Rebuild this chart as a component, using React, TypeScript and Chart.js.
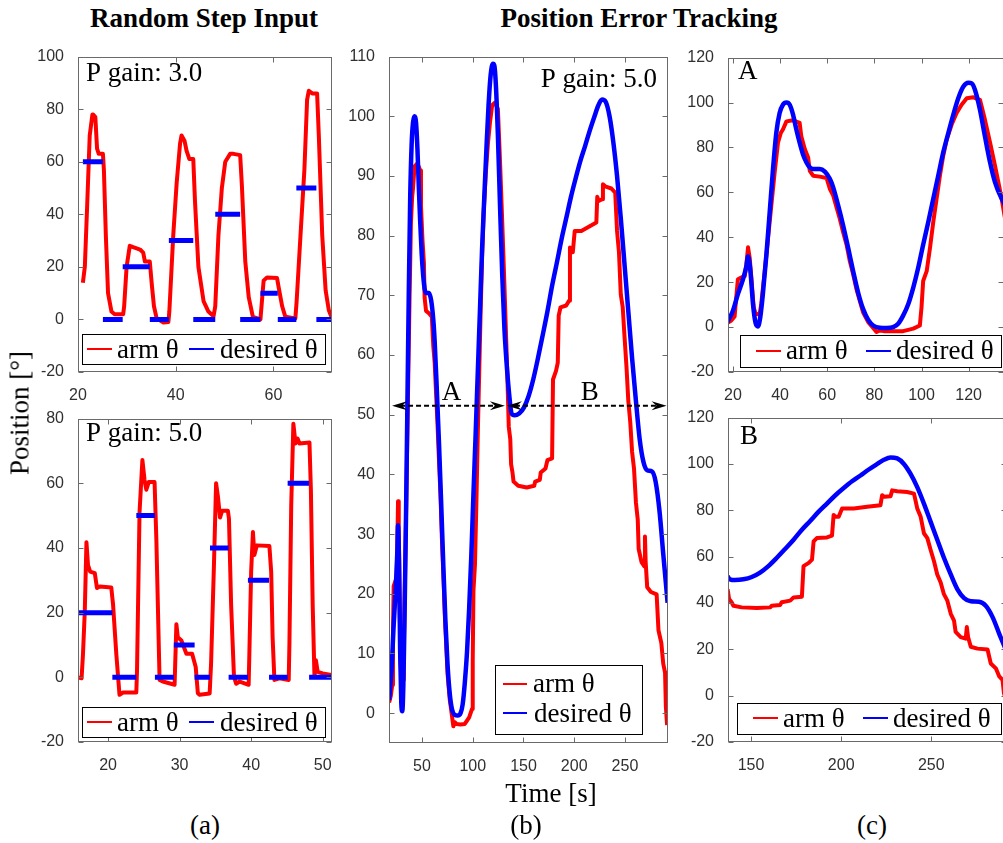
import React, { useEffect, useRef } from 'react';
import { Chart, registerables } from 'chart.js';

Chart.register(...registerables);

type Pt = [number, number];

const RED = '#ff0000';
const BLUE = '#0000ff';
const SERIF = '"Liberation Serif", "Times New Roman", Times, serif';
const SANS = '"Liberation Sans", Arial, Helvetica, sans-serif';

// ---------------- (a) top: P gain 3.0 ----------------
const a1Arm: Pt[] = [
  [21.0, 14], [21.4, 20], [21.85, 42], [22.4, 70], [22.95, 78], [23.1, 78], [23.55, 77], [23.9, 65],
  [24.25, 63], [25.1, 63], [25.3, 57], [25.7, 32], [26.15, 10], [26.85, 3], [27.5, 2], [29.25, 2],
  [29.45, 5], [29.95, 20], [30.6, 28], [31.3, 27.5], [32.7, 26.6], [33.35, 25.4], [33.7, 22], [34.7, 22],
  [35.1, 13.5], [35.55, 5], [36.1, 0.4], [37.5, -1.2], [38.5, -1], [38.7, 3], [39.5, 32], [40.2, 52],
  [40.9, 67], [41.2, 70], [41.8, 68], [42.25, 64], [42.8, 61], [43.6, 61], [43.95, 45], [44.65, 20],
  [45.7, 7], [46.7, 3], [47.75, 1.2], [48.1, 5], [48.75, 32], [49.45, 50], [50.15, 60], [51.15, 63],
  [51.85, 63], [53.2, 62.5], [53.55, 51], [54.25, 22], [54.95, 8.5], [55.8, 1], [57.35, 0], [58.0, 14.75],
  [58.7, 16], [60.75, 15.75], [61.1, 12], [61.8, 5], [62.45, 1], [64.5, 0.4], [64.75, 6.6], [65.55, 32],
  [66.35, 57], [66.9, 83.5], [67.25, 87], [67.95, 86], [68.95, 86], [69.3, 70], [70.0, 32], [70.7, 11],
  [71.35, 3.5], [72.0, 0.4],
];
const a1StepStart = [21, 25.1, 29.15, 34.7, 38.6, 43.6, 48.1, 53.2, 57.35, 60.9, 64.7, 68.8];
const a1StepEnd = [25.1, 29.15, 34.7, 38.6, 43.6, 48.1, 53.2, 57.35, 60.9, 64.7, 68.8, 72];
const a1StepValue = [60, 0, 20, 0, 30, 0, 40, 0, 10, 0, 50, 0];
const a1XTicks = [20, 40, 60];
const a1YTicks = [-20, 0, 20, 40, 60, 80, 100];

// ---------------- (a) bottom: P gain 5.0 ----------------
const a2Arm: Pt[] = [
  [15.7, 0], [16.3, -0.3], [16.5, 7.3], [16.75, 20.5], [16.98, 41.8], [17.2, 34.7], [17.5, 32.7], [18.15, 32.2],
  [18.45, 27.6], [18.85, 28.1], [20.45, 27.8], [20.7, 22.5], [21.15, 7.3], [21.6, -5.4], [22.1, -4.7], [23.95, -4.7],
  [24.05, 2.2], [24.4, 51], [24.8, 67.2], [25.1, 61], [25.35, 58], [25.7, 60.4], [26.5, 60.4], [26.75, 42.8],
  [27.2, -0.8], [27.65, -1.3], [29.3, -2.3], [29.55, 16.4], [29.75, 12.4], [30.25, 11.4], [30.95, 7.3], [31.75, 7.3],
  [32.25, 3.2], [32.55, -4.9], [32.8, -5.4], [34.2, -5], [34.4, 4.3], [34.8, 34.7], [35.1, 60], [35.35, 56],
  [35.65, 49.4], [35.95, 51.5], [36.75, 51.5], [36.9, 49], [37.2, 22.5], [37.6, 0.2], [37.9, -2], [38.4, -1.3],
  [39.65, -2.3], [39.75, 7.3], [40.0, 32.7], [40.25, 44.9], [40.45, 37.8], [40.8, 40.8], [42.55, 40.6], [42.8, 32.7],
  [43.0, 12.4], [43.25, -0.8], [43.95, -0.3], [45.25, -0.8], [45.35, 10.4], [45.6, 53], [45.9, 78.4], [46.2, 72.3],
  [46.5, 73.8], [46.75, 72.3], [48.15, 72.6], [48.35, 58], [48.6, 22.5], [48.85, 0.2], [49.05, 5.3], [49.3, 1.7],
  [50.0, 1.2], [51.2, 0.7],
];
const a2StepStart = [15.8, 20.6, 23.95, 26.55, 29.2, 32.1, 34.25, 36.85, 39.55, 42.5, 45.1, 48.1];
const a2StepEnd = [20.6, 23.95, 26.55, 29.2, 32.1, 34.25, 36.85, 39.55, 42.5, 45.1, 48.1, 51.3];
const a2StepValue = [20, 0, 50, 0, 10, 0, 40, 0, 30, 0, 60, 0];
const a2XTicks = [20, 30, 40, 50];
const a2YTicks = [-20, 0, 20, 40, 60, 80];

// ---------------- (b)/(c) tracking ----------------
const trackDesired: Pt[] = [
  [17.6, 2.2], [20, 7.3], [22.1, 14.7], [24.25, 21.3], [25.7, 27.1], [26.4, 31.5], [27.4, 25], [28.5, 10.3],
  [29.6, 1.8], [30.6, 0.3], [31.6, 4.4], [32.7, 14.7], [34.2, 32.3], [35.6, 51.3], [37, 70.4], [38.4, 86.5],
  [39.8, 95.3], [41.2, 99], [42.7, 100], [44.1, 99], [45.5, 94.6], [46.9, 88], [48.3, 82.1], [49.7, 77],
  [51.2, 73.3], [52.6, 71.1], [54, 70.4], [56.8, 70.4], [59, 69.2], [61.1, 66], [62.5, 62.3], [64.6, 54.3],
  [66.7, 45.5], [68.9, 35.2], [71, 24.9], [73.1, 15.4], [75.2, 8.1], [77.4, 3.2], [79.5, 0.7], [82.3, -0.3],
  [85.2, -0.4], [88, 0], [90.1, 1.5], [92.2, 5.1], [94.4, 10.3], [96.5, 17.6], [98.6, 26.4], [100.7, 36.7],
  [102.9, 46.9], [105, 57.2], [107.1, 67.4], [109.2, 77.7], [111.4, 86.5], [113.5, 94.6], [115.6, 101.9], [117.7, 107],
  [119.9, 108.8], [121.3, 108.5], [122.7, 105.6], [124.8, 96.8], [126.9, 85], [129.1, 73.3], [131.2, 64.5], [134, 57.2],
  [137, 51.6], [138.3, 50.2], [141.1, 49.9], [145.7, 50.2], [150.4, 51.2], [155, 53.1], [159.6, 55.9], [164.3, 59.5],
  [168.9, 63.3], [173.6, 67.3], [178.2, 71.6], [182.8, 75.4], [187.5, 79.4], [192.1, 82.9], [196.8, 86.5], [201.4, 89.6],
  [206, 92.5], [210.7, 95], [215.3, 97.6], [220, 100], [223.7, 101.8], [227.4, 102.8], [231.1, 102.4], [234.8, 100],
  [238.5, 95.7], [242.2, 90], [245.9, 82.9], [249.6, 75.1], [253.3, 67.3], [257, 59.5], [260.8, 52.3], [264.5, 45.9],
  [268.2, 42.1], [271.9, 40.7], [276.5, 40.5], [280.2, 38.8], [284, 33.9], [287.7, 26.7], [290.3, 21.8], [292, 18.5],
];
const trackArm: Pt[] = [
  [17.6, 1.8], [19.3, 2.9], [20.7, 4.7], [21.4, 13.2], [22.1, 21.3], [23.5, 22], [25, 22.7], [25.7, 27.9],
  [26.4, 35.5], [27.1, 30.8], [27.8, 22], [28.8, 8.8], [29.6, 5.9], [31.3, 5.6], [32, 10.3], [33.5, 24.9],
  [34.9, 39.6], [36.3, 54.3], [37.7, 68.9], [39.1, 82.1], [40.3, 86.5], [41.2, 88], [42.7, 91.6], [45.5, 92.1],
  [48.3, 90.9], [49, 85], [50.5, 79.2], [51.9, 75.5], [52.6, 69.6], [54, 67.4], [56.8, 67], [59.7, 66.4],
  [61.1, 61.6], [62.5, 58.7], [63.9, 53.5], [65.3, 48.4], [66.7, 42.5], [68.2, 36.7], [69.6, 29.3], [71, 23.5],
  [72.4, 16.9], [73.8, 11.7], [75.2, 6.6], [77.4, 2.2], [79.5, -0.4], [80.9, -2.2], [82.3, -1.5], [84, -1.8],
  [88, -1.9], [92.2, -1.8], [96.5, -0.7], [99.3, 0.7], [100, 8.8], [100.7, 20.5], [102.2, 24.9], [103.6, 35.2],
  [105, 46.9], [106.4, 57.2], [107.8, 67.4], [109.2, 76.2], [110.7, 83.6], [112.8, 90.2], [114.9, 95.3], [117, 99],
  [119.2, 101.9], [122, 102.3], [124.8, 101.2], [126.9, 92.4], [129.1, 82.1], [131.2, 71.8], [132.6, 64.5], [134, 57.2],
  [135.5, 48], [137, 45.9], [137.8, 41.7], [139.2, 40.3], [140.2, 38.8], [144.8, 38.1], [153.2, 37.8], [160.6, 38.1],
  [161.5, 38.8], [166.1, 39.1], [167, 40.3], [171.7, 41], [173.6, 42.4], [178.2, 42.7], [179.1, 55.9], [182, 57.3],
  [183.8, 58.7], [184.7, 66.6], [186.5, 68], [192.1, 68.3], [194.9, 69.1], [195.8, 78], [196.8, 77.2], [198.6, 77.2],
  [200.5, 80.8], [207, 80.8], [214.4, 81.5], [221.8, 82.2], [222.7, 86.5], [224, 85.8], [227.4, 86.1], [228.3, 88.6],
  [231.1, 88.2], [236.6, 87.9], [240.4, 87.2], [242.2, 80.8], [244.1, 77.2], [245.9, 70.1], [247.8, 68], [249.6, 63],
  [251.5, 58], [253.3, 52.3], [255.2, 48.8], [257, 43.8], [258.9, 41], [260.8, 35.3], [262.6, 32.4], [263.5, 27.5],
  [266.3, 25.3], [269.1, 24.6], [269.7, 29.6], [270.4, 25.3], [271.9, 21.1], [275.6, 20.3], [281.2, 19.9], [283, 13.9],
  [285.8, 11.8], [287.7, 8.3], [289.5, 6.8], [290.3, 1.1], [291.5, -2],
];
const bXTicks = [50, 100, 150, 200, 250];
const bYTicks = [0, 10, 20, 30, 40, 50, 60, 70, 80, 90, 100, 110];
const cAXTicks = [20, 40, 60, 80, 100, 120];
const cBXTicks = [150, 200, 250];
const cYTicks = [-20, 0, 20, 40, 60, 80, 100, 120];

// segment arrows on (b): from / to in seconds, level in degrees
const arrowFrom = [20.5, 133.7];
const arrowTo = [131.7, 291];
const arrowLabel = ['A', 'B'];
const arrowLevel = 51.5;

// ---------------- helpers ----------------
const toXY = (pts: Pt[]) => pts.map(([x, y]) => ({ x, y }));

function stepSegments(starts: number[], ends: number[], values: number[]) {
  const out: { x: number; y: number | null }[] = [];
  starts.forEach((s, i) => {
    out.push({ x: s, y: values[i] });
    out.push({ x: ends[i], y: values[i] });
    out.push({ x: ends[i], y: null });
  });
  return out;
}

const YW = 70;
const PT = 12;
const PR = 12;
const XH = 40;

interface LegendItem { label: string; color: string; s0: number; s1: number; sy: number; tx: number; ty: number }
interface Note { text: string; x: number; y: number; align?: CanvasTextAlign }
interface PanelProps {
  area: { l: number; t: number; r: number; b: number };
  xRange: [number, number];
  yRange: [number, number];
  xTicks: number[];
  yTicks: number[];
  datasets: any[];
  legendBox: [number, number, number, number];
  legendItems: LegendItem[];
  notes: Note[];
  arrows?: boolean;
}

function Panel(p: PanelProps) {
  const ref = useRef<HTMLCanvasElement>(null);
  const cl = p.area.l - YW;
  const ct = p.area.t - PT;
  const cw = p.area.r - p.area.l + YW + PR;
  const ch = p.area.b - p.area.t + PT + XH;

  useEffect(() => {
    const frame = {
      id: 'frame',
      afterDatasetsDraw(chart: any) {
        const { ctx, chartArea: ca, scales } = chart;
        const xs = scales.x;
        const ys = scales.y;
        ctx.save();
        // arrows
        if (p.arrows) {
          const yl = ys.getPixelForValue(arrowLevel);
          arrowFrom.forEach((f, i) => {
            const x0 = xs.getPixelForValue(f);
            const x1 = xs.getPixelForValue(arrowTo[i]);
            ctx.strokeStyle = '#000';
            ctx.fillStyle = '#000';
            ctx.lineWidth = 2;
            ctx.setLineDash([5, 3]);
            ctx.beginPath();
            ctx.moveTo(x0 + 8, yl);
            ctx.lineTo(x1 - 8, yl);
            ctx.stroke();
            ctx.setLineDash([]);
            const head = (tip: number, dir: number) => {
              ctx.beginPath();
              ctx.moveTo(tip, yl);
              ctx.lineTo(tip - dir * 15, yl - 4.5);
              ctx.lineTo(tip - dir * 10, yl);
              ctx.lineTo(tip - dir * 15, yl + 4.5);
              ctx.closePath();
              ctx.fill();
            };
            head(x0, -1);
            head(x1, 1);
            ctx.font = `27px ${SERIF}`;
            ctx.textAlign = 'center';
            ctx.textBaseline = 'alphabetic';
            ctx.fillText(arrowLabel[i], (x0 + x1) / 2 + 3, yl - 6);
          });
        }
        // box
        ctx.strokeStyle = '#6a6a6a';
        ctx.lineWidth = 1;
        const L = Math.round(ca.left) + 0.5;
        const T = Math.round(ca.top) + 0.5;
        const R = Math.round(ca.right) - 0.5;
        const B = Math.round(ca.bottom) - 0.5;
        ctx.strokeRect(L, T, R - L, B - T);
        ctx.beginPath();
        p.xTicks.forEach((v) => {
          const px = Math.round(xs.getPixelForValue(v)) + 0.5;
          ctx.moveTo(px, B); ctx.lineTo(px, B - 5);
          ctx.moveTo(px, T); ctx.lineTo(px, T + 5);
        });
        p.yTicks.forEach((v) => {
          const py = Math.round(ys.getPixelForValue(v)) + 0.5;
          ctx.moveTo(L, py); ctx.lineTo(L + 5, py);
          ctx.moveTo(R, py); ctx.lineTo(R - 5, py);
        });
        ctx.stroke();
        // legend
        const [bx0, by0, bx1, by1] = p.legendBox;
        ctx.fillStyle = '#fff';
        ctx.fillRect(bx0 - cl, by0 - ct, bx1 - bx0, by1 - by0);
        ctx.strokeStyle = '#000';
        ctx.strokeRect(bx0 - cl + 0.5, by0 - ct + 0.5, bx1 - bx0, by1 - by0);
        ctx.font = `27px ${SERIF}`;
        ctx.textAlign = 'left';
        ctx.textBaseline = 'alphabetic';
        p.legendItems.forEach((it) => {
          ctx.strokeStyle = it.color;
          ctx.lineWidth = 2;
          ctx.beginPath();
          ctx.moveTo(it.s0 - cl, it.sy - ct);
          ctx.lineTo(it.s1 - cl, it.sy - ct);
          ctx.stroke();
          ctx.fillStyle = '#000';
          ctx.fillText(it.label, it.tx - cl, it.ty - ct);
        });
        // notes
        p.notes.forEach((n) => {
          ctx.fillStyle = '#000';
          ctx.textAlign = n.align || 'left';
          ctx.fillText(n.text, n.x - cl, n.y - ct);
        });
        ctx.restore();
      },
    };

    const tickFont = { family: SANS, size: 16 };
    const chart = new Chart(ref.current as HTMLCanvasElement, {
      type: 'line',
      data: { datasets: p.datasets },
      options: {
        responsive: false,
        animation: false,
        events: [],
        layout: { padding: { top: PT, right: PR, left: 0, bottom: 0 } },
        plugins: { legend: { display: false }, tooltip: { enabled: false } },
        scales: {
          x: {
            type: 'linear',
            min: p.xRange[0],
            max: p.xRange[1],
            grid: { display: false },
            border: { display: false },
            ticks: { font: tickFont, color: '#303030', padding: 6, autoSkip: false, maxRotation: 0 },
            afterBuildTicks: (s: any) => { s.ticks = p.xTicks.map((v) => ({ value: v })); },
            afterFit: (s: any) => { s.height = XH; },
          },
          y: {
            type: 'linear',
            min: p.yRange[0],
            max: p.yRange[1],
            grid: { display: false },
            border: { display: false },
            ticks: { font: tickFont, color: '#303030', padding: 6, autoSkip: false },
            afterBuildTicks: (s: any) => { s.ticks = p.yTicks.map((v) => ({ value: v })); },
            afterFit: (s: any) => { s.width = YW; },
          },
        },
      } as any,
      plugins: [frame],
    });
    return () => chart.destroy();
  }, []);

  return (
    <canvas
      ref={ref}
      width={cw}
      height={ch}
      style={{ position: 'absolute', left: cl, top: ct, width: cw, height: ch }}
    />
  );
}

function Txt(props: { text: string; x: number; baseline: number; size?: number; bold?: boolean }) {
  const size = props.size || 27;
  return (
    <div
      style={{
        position: 'absolute',
        left: props.x,
        top: props.baseline - 0.8375 * size,
        transform: 'translateX(-50%)',
        fontFamily: SERIF,
        fontSize: size,
        lineHeight: `${size}px`,
        fontWeight: props.bold ? 'bold' : 'normal',
        whiteSpace: 'nowrap',
        color: '#000',
      }}
    >
      {props.text}
    </div>
  );
}

const lineDs = (label: string, data: any[], color: string, width: number, smooth = false) => ({
  label,
  data,
  borderColor: color,
  backgroundColor: color,
  borderWidth: width,
  pointRadius: 0,
  fill: false,
  spanGaps: false,
  borderCapStyle: 'butt',
  borderJoinStyle: 'round',
  clip: 0,
  ...(smooth ? { cubicInterpolationMode: 'monotone' } : { tension: 0 }),
});

const legendRow = (y: number, base: number, redS: number, redT: number, blueS: number, blueT: number): LegendItem[] => [
  { label: 'arm θ', color: RED, s0: redS, s1: redS + 25, sy: y, tx: redT, ty: base },
  { label: 'desired θ', color: BLUE, s0: blueS, s1: blueS + 25, sy: y, tx: blueT, ty: base },
];

export default function App() {
  return (
    <div
      style={{
        position: 'fixed', left: 0, top: 0, width: 1003, height: 843,
        overflow: 'hidden', background: '#fff',
      }}
    >
      <Txt text="Random Step Input" x={204} baseline={28} bold />
      <Txt text="Position Error Tracking" x={639} baseline={28} bold />

      <Panel
        area={{ l: 78, t: 53, r: 332, b: 372 }}
        xRange={[20, 72]}
        yRange={[-20, 100]}
        xTicks={a1XTicks}
        yTicks={a1YTicks}
        datasets={[
          lineDs('desired θ', stepSegments(a1StepStart, a1StepEnd, a1StepValue), BLUE, 5),
          lineDs('arm θ', toXY(a1Arm), RED, 4),
        ]}
        legendBox={[82, 334, 325, 364]}
        legendItems={legendRow(349, 358, 87, 117, 189, 220)}
        notes={[{ text: 'P gain: 3.0', x: 86, y: 81 }]}
      />

      <Panel
        area={{ l: 78, t: 415, r: 332, b: 742 }}
        xRange={[15.8, 51.3]}
        yRange={[-20, 80]}
        xTicks={a2XTicks}
        yTicks={a2YTicks}
        datasets={[
          lineDs('desired θ', stepSegments(a2StepStart, a2StepEnd, a2StepValue), BLUE, 5),
          lineDs('arm θ', toXY(a2Arm), RED, 4),
        ]}
        legendBox={[82, 707, 325, 737]}
        legendItems={legendRow(722, 731, 87, 117, 189, 220)}
        notes={[{ text: 'P gain: 5.0', x: 86, y: 441 }]}
      />

      <Panel
        area={{ l: 389, t: 53, r: 668, b: 743 }}
        xRange={[17.5, 292.4]}
        yRange={[-5, 110]}
        xTicks={bXTicks}
        yTicks={bYTicks}
        datasets={[
          lineDs('desired θ', toXY(trackDesired), BLUE, 4.5, true),
          lineDs('arm θ', toXY(trackArm), RED, 4),
        ]}
        legendBox={[495, 665, 642, 734]}
        legendItems={[
          { label: 'arm θ', color: RED, s0: 503, s1: 527, sy: 684, tx: 533, ty: 692 },
          { label: 'desired θ', color: BLUE, s0: 503, s1: 527, sy: 713, tx: 534, ty: 722 },
        ]}
        notes={[{ text: 'P gain: 5.0', x: 657, y: 87, align: 'right' }]}
        arrows
      />

      <Panel
        area={{ l: 728, t: 54, r: 1004, b: 372 }}
        xRange={[17.9, 135]}
        yRange={[-20, 120]}
        xTicks={cAXTicks}
        yTicks={cYTicks}
        datasets={[
          lineDs('desired θ', toXY(trackDesired), BLUE, 4.5, true),
          lineDs('arm θ', toXY(trackArm), RED, 4),
        ]}
        legendBox={[740, 335, 1001, 367]}
        legendItems={legendRow(351, 359, 756, 786, 866, 896)}
        notes={[{ text: 'A', x: 738, y: 79 }]}
      />

      <Panel
        area={{ l: 728, t: 414, r: 1007, b: 742 }}
        xRange={[137.2, 292]}
        yRange={[-20, 120]}
        xTicks={cBXTicks}
        yTicks={cYTicks}
        datasets={[
          lineDs('desired θ', toXY(trackDesired), BLUE, 4.5, true),
          lineDs('arm θ', toXY(trackArm), RED, 4),
        ]}
        legendBox={[737, 703, 1001, 734]}
        legendItems={legendRow(718, 727, 753, 783, 863, 893)}
        notes={[{ text: 'B', x: 740, y: 444 }]}
      />

      <div
        style={{
          position: 'absolute', left: 20, top: 413,
          transform: 'translate(-50%, -50%) rotate(-90deg)',
          fontFamily: SERIF, fontSize: 27, lineHeight: '27px', whiteSpace: 'nowrap', color: '#000',
        }}
      >
        Position [°]
      </div>
      <Txt text="Time [s]" x={551} baseline={803} />
      <Txt text="(a)" x={205} baseline={835} />
      <Txt text="(b)" x={526} baseline={835} />
      <Txt text="(c)" x={872} baseline={835} />
    </div>
  );
}
